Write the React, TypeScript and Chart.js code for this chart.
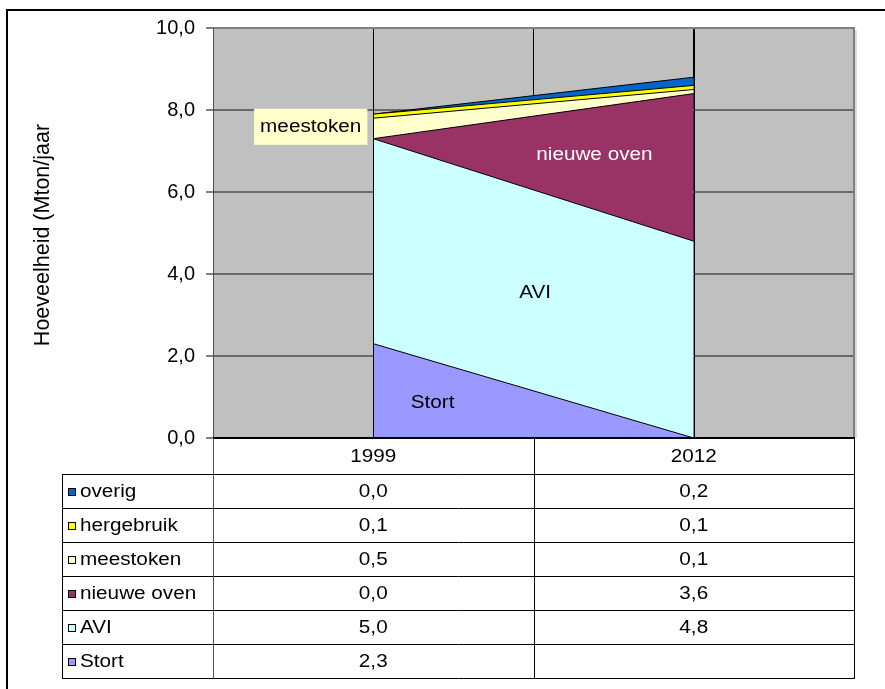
import React, { useEffect, useRef } from 'react';
import { Chart, registerables } from 'chart.js';

Chart.register(...registerables);

// ---- data ----
const categories = ['1999', '2012'];
const seriesNames = ['Stort', 'AVI', 'nieuwe oven', 'meestoken', 'hergebruik', 'overig'];
const stort: (number | null)[] = [2.3, null];
const avi: (number | null)[] = [5.0, 4.8];
const nieuweOven: (number | null)[] = [0.0, 3.6];
const meestoken: (number | null)[] = [0.5, 0.1];
const hergebruik: (number | null)[] = [0.1, 0.1];
const overig: (number | null)[] = [0.0, 0.2];
const seriesValues = [stort, avi, nieuweOven, meestoken, hergebruik, overig];
const seriesColors = ['#9999FF', '#CCFFFF', '#993366', '#FFFFCC', '#FFFF00', '#0066CC'];
const yMin = 0;
const yMax = 10;
const yStep = 2;
const yTitle = 'Hoeveelheid (Mton/jaar';

// in-chart labels (positions in data units)
const areaLabels = [
  { text: 'meestoken', x: 0.61, y: 7.59, color: '#000000', box: '#FFFFCC' },
  { text: 'nieuwe oven', x: 2.38, y: 6.9, color: '#FFFFFF', box: null },
  { text: 'AVI', x: 2.01, y: 3.54, color: '#000000', box: null },
  { text: 'Stort', x: 1.37, y: 0.85, color: '#000000', box: null },
];

const FONT = '"Liberation Sans", Arial, sans-serif';
const fmt = (v: number | null) => (v == null ? '' : v.toFixed(1).replace('.', ','));

function drawText(
  ctx: CanvasRenderingContext2D,
  text: string,
  x: number,
  y: number,
  size: number,
  align: CanvasTextAlign,
  color: string,
  sx = 1.15
) {
  ctx.save();
  ctx.font = `${size}px ${FONT}`;
  ctx.fillStyle = color;
  ctx.textBaseline = 'middle';
  ctx.textAlign = align;
  ctx.translate(x, y);
  ctx.scale(sx, 1);
  ctx.fillText(text, 0, 0);
  ctx.restore();
}

const W = 885;
const H = 689;

const decorPlugin = {
  id: 'decor',
  beforeDraw(chart: any) {
    const { ctx, chartArea: a } = chart;
    ctx.save();
    ctx.fillStyle = '#FFFFFF';
    ctx.fillRect(0, 0, W, H);
    // outer frame
    ctx.strokeStyle = '#000';
    ctx.lineWidth = 2;
    ctx.beginPath();
    ctx.moveTo(7, H + 2);
    ctx.lineTo(7, 10);
    ctx.lineTo(W + 2, 10);
    ctx.stroke();
    // plot background
    ctx.fillStyle = '#C0C0C0';
    ctx.fillRect(a.left, a.top, a.right - a.left, a.bottom - a.top);
    ctx.restore();
  },
  afterDatasetsDraw(chart: any) {
    const { ctx, chartArea: a } = chart;
    const xs = chart.scales.x;
    const ys = chart.scales.y;
    ctx.save();
    // category centre lines (area edges)
    ctx.strokeStyle = '#000';
    ctx.lineWidth = 1;
    categories.forEach((_, i) => {
      const px = Math.round(xs.getPixelForValue(2 * i + 1)) + 0.5;
      ctx.beginPath();
      ctx.moveTo(px, a.top);
      ctx.lineTo(px, a.bottom);
      ctx.stroke();
    });
    // plot border top/right
    ctx.strokeStyle = '#808080';
    ctx.lineWidth = 2;
    ctx.beginPath();
    ctx.moveTo(a.left, a.top);
    ctx.lineTo(a.right, a.top);
    ctx.lineTo(a.right, a.bottom);
    ctx.stroke();
    ctx.strokeStyle = '#DADADA';
    ctx.beginPath();
    ctx.moveTo(a.right + 2, a.top + 2);
    ctx.lineTo(a.right + 2, a.bottom);
    ctx.stroke();
    // left axis
    ctx.strokeStyle = '#505050';
    ctx.lineWidth = 1;
    ctx.beginPath();
    ctx.moveTo(a.left + 0.5, a.top);
    ctx.lineTo(a.left + 0.5, a.bottom);
    ctx.stroke();
    // bottom axis
    ctx.strokeStyle = '#000';
    ctx.lineWidth = 2;
    const y0 = ys.getPixelForValue(0);
    ctx.beginPath();
    ctx.moveTo(a.left, y0);
    ctx.lineTo(a.right + 1, y0);
    ctx.stroke();
    // area labels
    areaLabels.forEach((l) => {
      const px = xs.getPixelForValue(l.x);
      const py = ys.getPixelForValue(l.y);
      if (l.box) {
        ctx.font = `18px ${FONT}`;
        const w = ctx.measureText(l.text).width * 1.15 + 12;
        ctx.fillStyle = l.box;
        ctx.fillRect(px - w / 2, py - 18, w, 36);
      }
      drawText(ctx, l.text, px, py, 18, 'center', l.color);
    });
    ctx.restore();
  },
  afterDraw(chart: any) {
    const { ctx } = chart;
    const xs = chart.scales.x;
    const ys = chart.scales.y;
    const n = categories.length;
    const colEdges: number[] = [];
    for (let i = 0; i <= n; i++) colEdges.push(Math.round(xs.getPixelForValue(2 * i)));
    const top = Math.round(ys.getPixelForValue(0));
    const headerH = 36;
    const rowH = 34;
    const tableLeft = 62;
    const rows = seriesNames.map((name, i) => ({ name, values: seriesValues[i], color: seriesColors[i] })).reverse();
    const bottom = top + headerH + rowH * rows.length;
    ctx.save();
    ctx.strokeStyle = '#000';
    ctx.lineWidth = 1;
    // horizontal lines
    for (let r = 0; r <= rows.length; r++) {
      const y = top + headerH + r * rowH + 0.5;
      ctx.beginPath();
      ctx.moveTo(tableLeft, y);
      ctx.lineTo(colEdges[n] + 1, y);
      ctx.stroke();
    }
    // vertical lines
    ctx.beginPath();
    ctx.moveTo(tableLeft + 0.5, top + headerH);
    ctx.lineTo(tableLeft + 0.5, bottom + 1);
    ctx.stroke();
    colEdges.forEach((x, i) => {
      ctx.strokeStyle = i === 0 ? '#505050' : '#000';
      ctx.beginPath();
      ctx.moveTo(x + 0.5, top);
      ctx.lineTo(x + 0.5, bottom + 1);
      ctx.stroke();
    });
    // header
    categories.forEach((c, i) => {
      drawText(ctx, c, xs.getPixelForValue(2 * i + 1), top + headerH / 2 + 1, 18, 'center', '#000');
    });
    // rows
    rows.forEach((row, r) => {
      const cy = top + headerH + r * rowH + rowH / 2 + 1;
      ctx.fillStyle = row.color;
      ctx.fillRect(68, Math.round(cy - 4), 8, 8);
      ctx.strokeStyle = '#000';
      ctx.lineWidth = 1;
      ctx.strokeRect(68.5, Math.round(cy - 4) + 0.5, 7, 7);
      drawText(ctx, row.name, 80, cy, 18, 'left', '#000');
      row.values.forEach((v, i) => {
        drawText(ctx, fmt(v), xs.getPixelForValue(2 * i + 1), cy, 18, 'center', '#000');
      });
    });
    // y title
    ctx.save();
    ctx.translate(43, (ys.getPixelForValue(yMax) + ys.getPixelForValue(yMin)) / 2 + 2);
    ctx.rotate(-Math.PI / 2);
    ctx.font = `21.5px ${FONT}`;
    ctx.fillStyle = '#000';
    ctx.textAlign = 'center';
    ctx.textBaseline = 'middle';
    ctx.fillText(yTitle, 0, 0);
    ctx.restore();
    ctx.restore();
  },
};

export default function App() {
  const ref = useRef<HTMLCanvasElement | null>(null);
  useEffect(() => {
    if (!ref.current) return;
    const chart = new Chart(ref.current, {
      type: 'line',
      data: {
        datasets: seriesNames.map((name, s) => ({
          label: name,
          data: categories.map((_, i) => ({ x: 2 * i + 1, y: seriesValues[s][i] ?? 0 })),
          backgroundColor: seriesColors[s],
          borderColor: '#000000',
          borderWidth: 1,
          pointRadius: 0,
          pointHoverRadius: 0,
          tension: 0,
          fill: s === 0 ? 'origin' : '-1',
        })),
      },
      options: {
        animation: false,
        responsive: false,
        devicePixelRatio: 1,
        events: [],
        layout: { padding: { left: 0, top: 28, right: 31, bottom: 0 } },
        plugins: { legend: { display: false }, tooltip: { enabled: false }, title: { display: false } },
        scales: {
          x: {
            type: 'linear',
            min: 0,
            max: categories.length * 2,
            ticks: { display: false, stepSize: 1 },
            border: { display: false },
            grid: {
              drawTicks: false,
              lineWidth: 1,
              color: (c: any) => (c.tick && c.tick.value > 0 && c.tick.value < categories.length * 2 ? '#000000' : 'rgba(0,0,0,0)'),
            },
            afterFit: (scale: any) => {
              scale.height = H - 438;
            },
          },
          y: {
            stacked: true,
            min: yMin,
            max: yMax,
            border: { display: false },
            ticks: {
              stepSize: yStep,
              padding: 11,
              color: '#000',
              font: { family: FONT, size: 20 },
              callback: (v: any) => Number(v).toFixed(1).replace('.', ','),
            },
            grid: {
              lineWidth: 2,
              tickLength: 7,
              tickColor: '#808080',
              color: (c: any) => (c.tick && c.tick.value === yMin ? 'rgba(0,0,0,0)' : '#6A6A6A'),
            },
            afterFit: (scale: any) => {
              scale.width = 213;
            },
          },
        },
      },
      plugins: [decorPlugin],
    });
    return () => chart.destroy();
  }, []);
  return (
    <div style={{ position: 'absolute', left: 0, top: 0, width: W, height: H }}>
      <canvas ref={ref} width={W} height={H} style={{ width: W, height: H, display: 'block' }} />
    </div>
  );
}
